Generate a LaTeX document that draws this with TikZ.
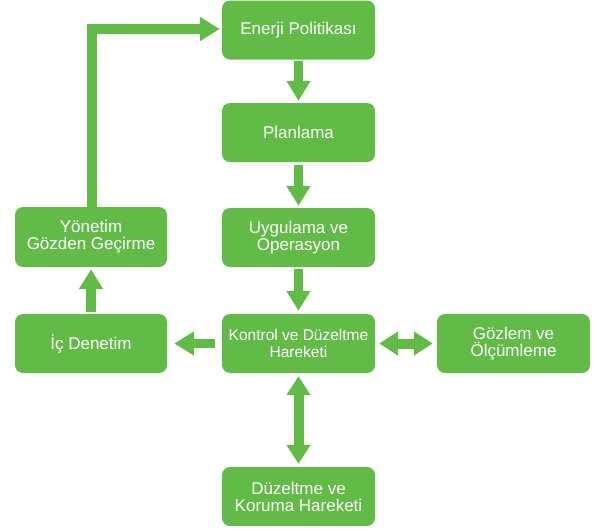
\documentclass[tikz,border=0pt]{standalone}
\usepackage{fontspec}
\setmainfont{Liberation Sans}
\usetikzlibrary{arrows.meta}
\definecolor{lgreen}{RGB}{98,187,71}
\tikzset{
  box/.style={fill=lgreen, text=white, rounded corners=8pt, minimum width=153pt,
    minimum height=59pt, inner sep=0pt, align=center,
    font=\fontsize{17}{17}\selectfont},
  blk/.style={draw=lgreen, line width=9.5pt, line join=miter,
    -{Triangle[length=20pt,width=23pt]}},
  dblk/.style={draw=lgreen, line width=10pt,
    {Triangle[length=19pt,width=23pt]}-{Triangle[length=19pt,width=23pt]}}
}
\begin{document}
\begin{tikzpicture}[x=1pt,y=-1pt]
\useasboundingbox (0,0) rectangle (612,531);
\node[box] (E) at (298.5,30) {Enerji Politikası};
\node[box] (P) at (298.5,132.5) {Planlama};
\node[box] (U) at (298.5,237.5) {Uygulama ve\\Operasyon};
\node[box, font=\fontsize{15.5}{17}\selectfont] (K) at (298.5,343.5) {Kontrol ve Düzeltme\\Hareketi};
\node[box] (D) at (298.5,496.5) {Düzeltme ve\\Koruma Hareketi};
\node[box] (G) at (513.5,343.5) {Gözlem ve\\Ölçümleme};
\node[box, minimum width=152pt] (I) at (91,343.5) {İç Denetim};
\node[box, minimum width=152pt, minimum height=60pt] (Y) at (91,237) {Yönetim\\Gözden Geçirme};
\draw[blk, shorten <=1pt, shorten >=2pt] (E) -- (P);
\draw[blk, shorten <=3pt, shorten >=2pt] (P) -- (U);
\draw[blk, shorten <=2pt, shorten >=3pt] (U) -- (K);
\draw[blk, shorten <=7pt, shorten >=7pt] (K) -- (I);
\draw[dblk, shorten <=4pt, shorten >=4pt] (K) -- (G);
\draw[dblk, shorten <=3pt, shorten >=3pt] (K) -- (D);
\draw[blk, shorten <=2pt, shorten >=2pt] (I) -- (Y);
\draw[blk, shorten >=2pt] ([xshift=1pt]Y.north) |- ([yshift=1pt]E.west);
\end{tikzpicture}
\end{document}
